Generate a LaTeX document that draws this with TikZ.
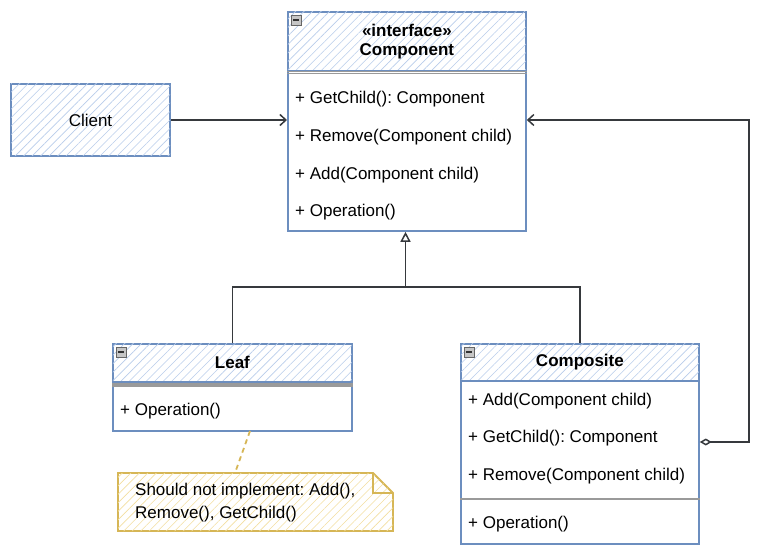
\documentclass[tikz,border=0pt]{standalone}
\usepackage{fontspec}
\setmainfont{Liberation Sans}
\usetikzlibrary{arrows.meta,patterns.meta,positioning}

\definecolor{boxline}{HTML}{6C8EBF}
\definecolor{boxhatch}{HTML}{B9CDEB}
\definecolor{noteline}{HTML}{D6B656}
\definecolor{notehatch}{HTML}{F3DFA0}
\definecolor{edgecol}{HTML}{36393D}
\definecolor{sepcol}{HTML}{9A9A9A}

% маленькая кнопка свёртки в углу заголовка
\newcommand\collapsebtn[1]{%
  \draw[draw=gray!80!black, fill=gray!45, line width=0.6pt]
    ([xshift=4pt,yshift=-4pt]#1.north west) rectangle ++(10pt,-10pt);
  \draw[line width=1.2pt, black!80]
    ([xshift=6pt,yshift=-9pt]#1.north west) -- ++(6pt,0);
}

\begin{document}
\frenchspacing
\begin{tikzpicture}[x=1pt, y=-1pt,
    box/.style={draw=boxline, line width=1.8pt, fill=white,
      postaction={pattern={Lines[angle=45,distance=6pt,line width=0.6pt]}, pattern color=boxhatch}}, % заштрихованный блок
    body/.style={draw=boxline, line width=1.8pt, fill=white}, % тело класса
    title/.style={align=center, font=\fontsize{17}{19}\selectfont\bfseries}, % заголовок класса
    member/.style={anchor=west, inner sep=0pt, font=\fontsize{17}{19}\selectfont}, % строка метода
    sep/.style={draw=sepcol, line width=1.3pt}, % разделитель
    edge/.style={draw=edgecol, line width=1.5pt}, % связь
  ]

  \useasboundingbox (0,0) rectangle (757,553);

  % клиент
  \node[box, minimum width=159, minimum height=72, font=\fontsize{17}{19}\selectfont] (client) at (90.5,120) {Client};

  % интерфейс Component
  \node[box, title, minimum width=238, minimum height=59, anchor=north west] (comphead) at (287,11) {«interface»\\Component};
  \node[body, minimum width=238, minimum height=160, anchor=north west] (compbody) at (287,70) {};
  \draw[sep] ([yshift=-1.5pt]compbody.north west) -- ([yshift=-1.5pt]compbody.north east);
  \draw[sep] ([yshift=-3.5pt]compbody.north west) -- ([yshift=-3.5pt]compbody.north east);
  \collapsebtn{comphead}
  \node[member] (cget) at (295,99) {+ GetChild(): Component};
  \node[member] (crem) at (295,137) {+ Remove(Component child)};
  \node[member] (cadd) at (295,175) {+ Add(Component child)};
  \node[member] (cop) at (295,212) {+ Operation()};

  % Leaf
  \node[box, title, minimum width=239, minimum height=38, anchor=north west] (leafhead) at (112,343) {Leaf};
  \node[body, minimum width=239, minimum height=49, anchor=north west] (leafbody) at (112,381) {};
  \draw[sep] ([yshift=-3pt]leafbody.north west) -- ([yshift=-3pt]leafbody.north east);
  \draw[sep] ([yshift=-5pt]leafbody.north west) -- ([yshift=-5pt]leafbody.north east);
  \collapsebtn{leafhead}
  \node[member] (lop) at (120,411) {+ Operation()};

  % Composite
  \node[box, title, minimum width=238, minimum height=37, anchor=north west] (comphost) at (460,343) {Composite};
  \node[body, minimum width=238, minimum height=163, anchor=north west] (hostbody) at (460,380) {};
  \draw[sep] (hostbody.west |- 0,499) -- (hostbody.east |- 0,499);
  \collapsebtn{comphost}
  \node[member] (hadd) at (468,401) {+ Add(Component child)};
  \node[member] (hget) at (468,438) {+ GetChild(): Component};
  \node[member] (hrem) at (468,476) {+ Remove(Component child)};
  \node[member] (hop) at (468,524) {+ Operation()};

  % заметка
  \coordinate (notetl) at (118,473);
  \coordinate (notebr) at (393,531);
  \draw[draw=noteline, line width=1.8pt, fill=white,
      postaction={pattern={Lines[angle=45,distance=6pt,line width=0.6pt]}, pattern color=notehatch}]
    (notetl) -- (373,473) -- (393,493) -- (notebr) -- (118,531) -- cycle;
  \draw[draw=noteline, line width=1.8pt] (373,473) -- (373,493) -- (393,493);
  \node[anchor=west, align=left, inner sep=0pt, font=\fontsize{17}{23}\selectfont] (note) at (135,503)
    {Should not implement: Add(),\\Remove(), GetChild()};
  \coordinate (notepin) at (235,473);
  \coordinate (leafpin) at (250,431);
  \draw[draw=noteline, line width=1.8pt, dash pattern=on 5pt off 4pt] (leafpin) -- (notepin);

  % связи
  \draw[edge, -{Straight Barb[length=6pt,width=11pt]}] (client.east) -- (compbody.west |- client);
  \coordinate (split) at (405.5,287);
  \draw[edge] (leafhead.north) |- (split);
  \draw[edge] (comphost.north) |- (split);
  \draw[edge, -{Triangle[open,length=10pt,width=10pt,fill=white]}] (split) -- (compbody.south -| split);
  \coordinate (turn) at (749,442);
  \draw[edge, {Diamond[open,length=12pt,width=7pt,fill=white]}-{Straight Barb[length=6pt,width=11pt]}]
    (hostbody.east |- turn) -- (turn) |- (compbody.east |- client);
\end{tikzpicture}
\end{document}
